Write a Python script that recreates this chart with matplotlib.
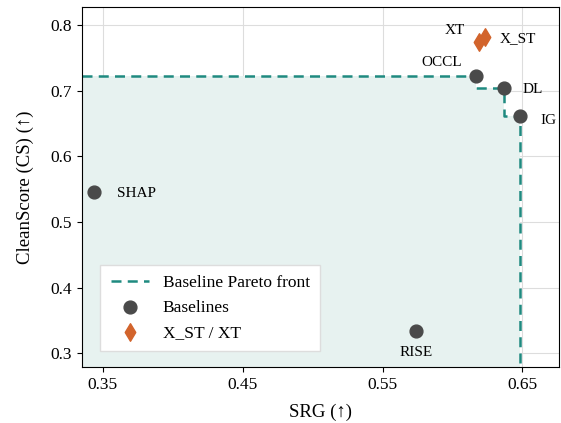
import numpy as np
import matplotlib
matplotlib.use("Agg")
import matplotlib.pyplot as plt

plt.rcParams['font.family'] = ['Liberation Serif', 'DejaVu Serif']

# baseline methods (SRG, CleanScore)
methods = ['SHAP', 'RISE', 'OCCL', 'DL', 'IG']
srg = [0.344, 0.574, 0.617, 0.637, 0.648]
cs = [0.546, 0.334, 0.722, 0.705, 0.662]

# ours
ours = ['XT', 'X_ST']
ours_srg = [0.619, 0.623]
ours_cs = [0.774, 0.782]

xlim = (0.335, 0.676)
ylim = (0.279, 0.828)

# pareto front of baselines (maximise both)
pts = sorted(zip(srg, cs), key=lambda p: -p[0])
front = []
best = -1
for x, y in pts:
    if y > best:
        front.append((x, y))
        best = y
front = sorted(front)  # by x ascending, y descending

fx = [xlim[0]]
fy = [front[0][1]]
for i, (x, y) in enumerate(front):
    fx.append(x)
    fy.append(y)
    ny = front[i + 1][1] if i + 1 < len(front) else ylim[0]
    fx.append(x)
    fy.append(ny)

fig = plt.figure(figsize=(5.61, 4.23), dpi=100)
ax = fig.add_axes([0.146, 0.132, 0.850, 0.852])

teal = '#1f8a80'
ax.fill_between(fx, fy, ylim[0], color='#e7f2f0', zorder=1, linewidth=0)
ax.plot(fx, fy, '--', color=teal, lw=1.8, dashes=(4, 2.5), zorder=2, label='Baseline Pareto front')
ax.scatter(srg, cs, s=85, color='#4a4a4a', zorder=4, label='Baselines')
ax.scatter(ours_srg, ours_cs, s=80, marker='d', color='#d2642c', zorder=5, label='X_ST / XT')

offsets = {
    'SHAP': (16, -4, 'left'),
    'RISE': (0, -18, 'center'),
    'OCCL': (-10, 5, 'right'),
    'DL': (13, -4, 'left'),
    'IG': (15, -6, 'left'),
    'XT': (-10, 4, 'right'),
    'X_ST': (11, -4, 'left'),
}
for name, x, y in zip(methods + ours, srg + ours_srg, cs + ours_cs):
    dx, dy, ha = offsets[name]
    ax.annotate(name, (x, y), xytext=(dx, dy), textcoords='offset points',
                ha=ha, va='bottom' if dy > 0 else 'baseline', fontsize=11)

ax.set_xlim(xlim)
ax.set_ylim(ylim)
ax.set_xticks([0.35, 0.45, 0.55, 0.65])
ax.set_xticklabels(['0.35', '0.45', '0.55', '0.65'])
ax.set_yticks([0.3, 0.4, 0.5, 0.6, 0.7, 0.8])
ax.tick_params(labelsize=12.5)
ax.grid(True, color='#dddddd', lw=0.8, zorder=0)
ax.set_axisbelow(True)
ax.set_xlabel('SRG (↑)', fontsize=13.5, labelpad=8)
ax.set_ylabel('CleanScore (CS) (↑)', fontsize=13.5, labelpad=12)

ax.legend(loc='lower left', bbox_to_anchor=(0.02, 0.02), fontsize=12.5, frameon=True,
          fancybox=False, edgecolor='#dddddd', framealpha=1, borderpad=0.6, handlelength=2.2)

fig.savefig('out.png', dpi=100)
